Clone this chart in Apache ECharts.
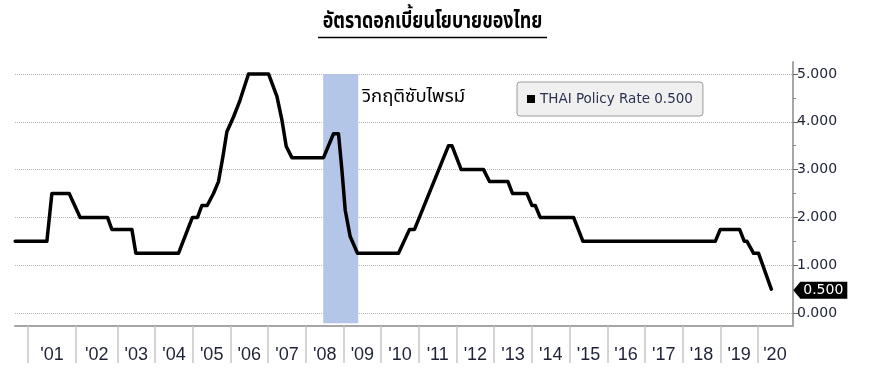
<!DOCTYPE html>
<html><head><meta charset="utf-8">
<script src="https://cdn.jsdelivr.net/npm/echarts@6/dist/echarts.min.js"></script>
<style>html,body{margin:0;padding:0;background:#fff}#c{width:874px;height:382px}</style>
</head><body><div id="c"></div>
<script>
// ---- data (decimal years, policy rate %) ----
const dates = [2000.285, 2001.126, 2001.259, 2001.718, 2002.010, 2002.735, 2002.851, 2003.382, 2003.488,
  2004.619, 2004.988, 2005.124, 2005.240, 2005.381, 2005.548, 2005.681, 2005.798, 2005.904, 2006.079,
  2006.239, 2006.478, 2007.009, 2007.232, 2007.364, 2007.478, 2007.630, 2008.469, 2008.734, 2008.867,
  2008.957, 2009.045, 2009.177, 2009.371, 2010.459, 2010.752, 2010.884, 2011.787, 2011.877, 2012.124,
  2012.716, 2012.875, 2013.364, 2013.486, 2013.868, 2014.001, 2014.089, 2014.221, 2015.105, 2015.355,
  2018.867, 2019.000, 2019.512, 2019.637, 2019.709, 2019.884, 2020.016, 2020.354];
const rates = [1.5, 1.5, 2.5, 2.5, 2.0, 2.0, 1.75, 1.75, 1.25,
  1.25, 2.0, 2.0, 2.25, 2.25, 2.5, 2.75, 3.27, 3.79, 4.1,
  4.42, 5.0, 5.0, 4.53, 4.04, 3.49, 3.25, 3.25, 3.75, 3.75,
  2.99, 2.15, 1.6, 1.25, 1.25, 1.75, 1.75, 3.5, 3.5, 3.0,
  3.0, 2.75, 2.75, 2.5, 2.5, 2.25, 2.25, 2.0, 2.0, 1.5,
  1.5, 1.75, 1.75, 1.5, 1.5, 1.25, 1.25, 0.5];
const yLabelValues = [0, 1, 2, 3, 4, 5];
const yMinorTicks = [0.5, 1.5, 2.5, 3.5, 4.5];
const xTickYears = [2000.62, 2001.88, 2003, 2004, 2005, 2006, 2007, 2008, 2009, 2010, 2011, 2012,
  2013, 2014, 2015, 2016, 2017, 2018, 2019, 2020];
const xLabelYears = [2001.26, 2002.45, 2003.5, 2004.5, 2005.5, 2006.5, 2007.5, 2008.5, 2009.5, 2010.5,
  2011.5, 2012.5, 2013.5, 2014.5, 2015.5, 2016.5, 2017.5, 2018.5, 2019.5, 2020.45];
const crisisBand = [2008.46, 2009.39];
const seriesName = 'THAI Policy Rate 0.500';
const lastValueLabel = '0.500';
const titleText = 'อัตราดอกเบี้ยนโยบายของไทย';
const crisisText = 'วิกฤติซับไพรม์';

const X_MIN = 2000.28, X_MAX = 2020.93, Y_MIN = -0.27, Y_MAX = 5.25;
const thaiFont = "'Noto Sans Thai','Noto Sans','DejaVu Sans',sans-serif";
const numFont = "'DejaVu Sans',Verdana,sans-serif";

const chart = echarts.init(document.getElementById('c'), null, {renderer: 'canvas'});
const lastIdx = dates.length - 1;
chart.setOption({
  animation: false,
  backgroundColor: '#ffffff',
  grid: {left: 15, right: 81, top: 62, bottom: 56, containLabel: false},
  legend: {
    show: true, left: 517, top: 82, orient: 'horizontal',
    padding: [10, 10, 10, 10],
    backgroundColor: '#f0f0f0', borderColor: '#9a9a9a', borderWidth: 1, borderRadius: 3,
    icon: 'rect', itemWidth: 8, itemHeight: 8,
    textStyle: {fontFamily: numFont, fontSize: 13.5, color: '#2b3150'},
    data: [{name: seriesName, itemStyle: {color: '#000'}}]
  },
  xAxis: {
    type: 'value', min: X_MIN, max: X_MAX,
    axisLine: {show: true, onZero: false, lineStyle: {color: '#a6a6a6', width: 2}},
    axisTick: {show: true, customValues: xTickYears, length: 37, lineStyle: {color: '#c6c6c6', width: 1.5}},
    axisLabel: {show: true, customValues: xLabelYears, margin: 20,
      fontFamily: "'Liberation Sans Narrow','Liberation Sans',sans-serif", fontSize: 18, color: '#1e2235',
      formatter: v => "'" + String(Math.floor(v)).slice(2)},
    splitLine: {show: false}
  },
  yAxis: [{
    type: 'value', position: 'right', min: Y_MIN, max: Y_MAX,
    axisLine: {show: true, lineStyle: {color: '#a6a6a6', width: 2}},
    axisTick: {show: true, customValues: yLabelValues, length: 5, inside: false, lineStyle: {color: '#666', width: 1}},
    axisLabel: {show: true, customValues: yLabelValues, margin: 4,
      fontFamily: numFont, fontSize: 14, color: '#1e2235', formatter: v => v.toFixed(3)},
    splitLine: {show: true, lineStyle: {color: '#b5b5b5', type: 'dotted', width: 1}}
  }, {
    type: 'value', position: 'right', min: Y_MIN, max: Y_MAX,
    axisLine: {show: false},
    axisTick: {show: true, customValues: yMinorTicks, length: 3, lineStyle: {color: '#888', width: 1}},
    axisLabel: {show: false},
    splitLine: {show: false}
  }],
  series: [{
    name: seriesName, type: 'line', yAxisIndex: 0,
    data: dates.map((d, i) => [d, rates[i]]),
    showSymbol: false, symbol: 'none',
    lineStyle: {color: '#000', width: 3.5, join: 'round', cap: 'round'},
    itemStyle: {color: '#000'},
    z: 5,
    markArea: {
      silent: true,
      itemStyle: {color: '#b4c6e7', opacity: 1},
      data: [[{xAxis: crisisBand[0], yAxis: 5.0}, {xAxis: crisisBand[1], yAxis: -0.21}]]
    },
    markPoint: {
      silent: true,
      symbol: 'path://M0,8.5 L7,0 L54,0 L54,17 L7,17 Z',
      symbolSize: [54, 17], symbolKeepAspect: false,
      symbolOffset: [49, 1],
      itemStyle: {color: '#000'},
      label: {show: true, position: 'inside', offset: [3, 0], formatter: lastValueLabel,
        color: '#fff', fontFamily: numFont, fontSize: 14},
      data: [{coord: [dates[lastIdx], rates[lastIdx]]}]
    }
  }],
  graphic: [
    {type: 'text', x: 432.5, y: 35, scaleX: 0.85, scaleY: 1.1,
      style: {text: titleText, font: 'bold 21px ' + thaiFont, fill: '#000', textAlign: 'center', textVerticalAlign: 'bottom'}},
    {type: 'line', shape: {x1: 318, y1: 37.5, x2: 547, y2: 37.5}, style: {stroke: '#000', lineWidth: 1.5}},
    {type: 'text', left: 362, top: 89, style: {text: crisisText, font: '18.5px ' + thaiFont, fill: '#000'}}
  ]
});
</script></body></html>
